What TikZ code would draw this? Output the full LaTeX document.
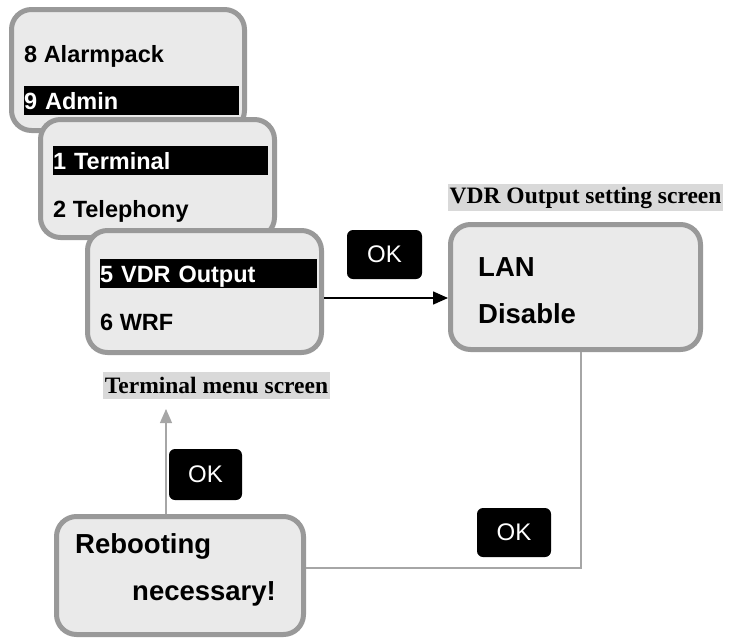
\documentclass[tikz,border=0pt]{standalone}
\usepackage{fontspec}
\setmainfont{Liberation Sans}
\newfontfamily\capfont{Liberation Serif}
\usetikzlibrary{arrows.meta}
\definecolor{framegray}{HTML}{999999}
\definecolor{screenfill}{HTML}{EAEAEA}
\definecolor{capgray}{HTML}{D9D9D9}
\definecolor{linegray}{HTML}{A6A6A6}

\begin{document}
\begin{tikzpicture}[x=1pt, y=-1pt,
        screen/.style={draw=framegray, line width=5pt, fill=screenfill, rounded corners=20pt, inner sep=0pt},
        item/.style={anchor=base west, inner sep=0pt, font=\fontsize{23.5}{28}\selectfont\bfseries},
        big/.style={item, font=\fontsize{27.5}{32}\selectfont\bfseries},
        bar/.style={item, anchor=north west, fill=black, text=white, text width=#1, minimum height=29pt, text height=17pt, text depth=0pt},
        okkey/.style={fill=black, text=white, rounded corners=6pt, font=\fontsize{24}{28}\selectfont, minimum height=49pt},
        caption/.style={fill=capgray, font=\capfont\fontsize{23.5}{26}\selectfont\bfseries, inner xsep=1.5pt, inner ysep=0pt, minimum height=27pt}]
        \useasboundingbox (0,0) rectangle (729,638);

        % Draw menu screens
        \node[screen, minimum width=233pt, minimum height=121pt] (main) at (128,70) {};
        \node[item] (alarmpack) at (24,62) {8 Alarmpack};
        \node[bar=215pt] (admin) at (24,86) {9 Admin};

        \node[screen, minimum width=234pt, minimum height=118pt] (adminmenu) at (157.5,178.5) {};
        \node[bar=215pt] (terminal) at (53,146) {1 Terminal};
        \node[item] (telephony) at (53,217) {2 Telephony};

        \node[screen, minimum width=234pt, minimum height=122pt] (termmenu) at (204.5,291.5) {};
        \node[bar=217pt] (vdrout) at (100,259) {5 VDR Output};
        \node[item] (wrf) at (100,330) {6 WRF};
        \node[caption] (termcap) at (216.5,385.5) {Terminal menu screen};

        % Draw setting and reboot screens
        \node[screen, minimum width=250pt, minimum height=125pt] (setting) at (575.5,287) {};
        \node[big] (lan) at (478,276) {LAN};
        \node[big] (disable) at (478,323) {Disable};
        \node[caption, anchor=west] (setcap) at (448,197.5) {VDR Output setting screen};

        \node[screen, minimum width=247pt, minimum height=118pt] (reboot) at (180,575.5) {};
        \node[big] (rebooting) at (75,553) {Rebooting};
        \node[big] (necessary) at (132,600) {necessary!};

        % Draw connections
        \coordinate (arrowrow) at (0,298);
        \coordinate (bend) at (581,568);
        \coordinate (uptip) at (166,409);
        \draw[line width=1.5pt, -{Triangle[length=15pt, width=13pt]}] (termmenu.east |- arrowrow) -- (setting.west |- arrowrow);
        \draw[linegray, line width=1.2pt] (setting.south -| bend) -- (bend) -- (reboot.east |- bend);
        \draw[linegray, line width=1.2pt, -{Triangle[length=14pt, width=12pt]}] (reboot.north -| uptip) -- (uptip);

        % Draw keys
        \node[okkey, minimum width=75pt] (ok1) at (384.5,254.5) {OK};
        \node[okkey, minimum width=73pt, minimum height=51pt] (ok2) at (205.5,474.5) {OK};
        \node[okkey, minimum width=74pt] (ok3) at (514,532.5) {OK};
    \end{tikzpicture}
\end{document}
